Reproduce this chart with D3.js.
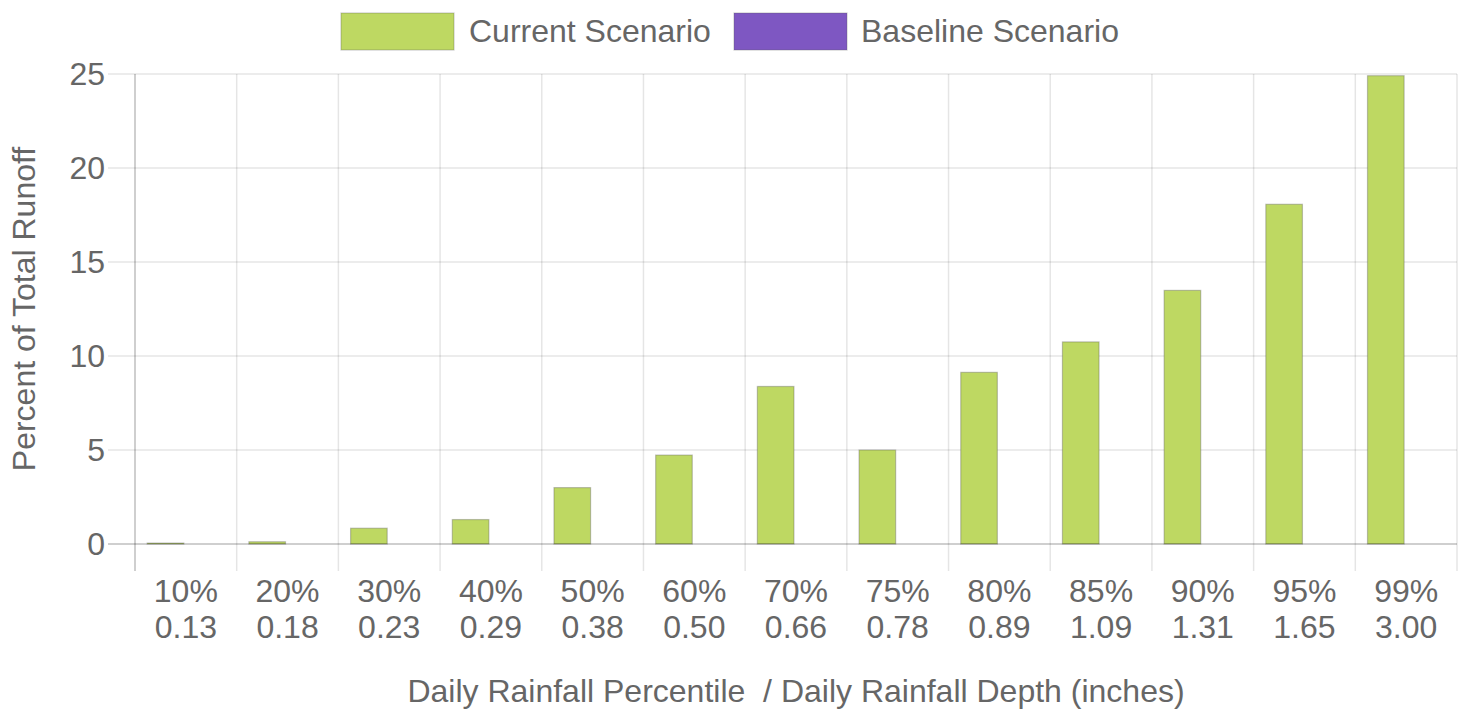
<!DOCTYPE html>
<html>
<head>
<meta charset="utf-8">
<script src="https://cdn.jsdelivr.net/npm/d3@7/dist/d3.min.js"></script>
<style>
  html, body { margin: 0; padding: 0; background: #fff; }
  svg { display: block; }
  text { font-family: "Liberation Sans", Arial, Helvetica, sans-serif; fill: #666; }
</style>
</head>
<body>
<svg id="chart" width="1476" height="711"></svg>
<script>
// Rainfall percentile categories and their daily depth (inches)
const percentiles = ["10%", "20%", "30%", "40%", "50%", "60%", "70%", "75%", "80%", "85%", "90%", "95%", "99%"];
const depths = ["0.13", "0.18", "0.23", "0.29", "0.38", "0.50", "0.66", "0.78", "0.89", "1.09", "1.31", "1.65", "3.00"];

// Percent of total runoff per scenario
const currentScenario = [0.05, 0.12, 0.84, 1.3, 3.0, 4.73, 8.38, 5.0, 9.13, 10.75, 13.49, 18.07, 24.91];
const baselineScenario = [0, 0, 0, 0, 0, 0, 0, 0, 0, 0, 0, 0, 0];

const yTicks = [0, 5, 10, 15, 20, 25];

const seriesNames = ["Current Scenario", "Baseline Scenario"];
const seriesColors = ["#bed862", "#7e57c2"];

const svg = d3.select("#chart");
const margin = { left: 135, right: 19, top: 74, bottom: 167 };
const W = 1476, H = 711;
const plotW = W - margin.left - margin.right;
const plotH = H - margin.top - margin.bottom;
const fontSize = 32;
const gridColor = "rgba(0,0,0,0.1)";
const axisColor = "rgba(0,0,0,0.25)";
const tickLen = 27;

const x = d3.scaleBand().domain(percentiles).range([margin.left, margin.left + plotW]).paddingInner(0).paddingOuter(0);
const y = d3.scaleLinear().domain([0, 25]).range([margin.top + plotH, margin.top]);

// inner band for the two datasets within each category (80% of the category)
const sub = d3.scaleBand().domain(seriesNames)
  .range([x.bandwidth() * 0.1, x.bandwidth() * 0.9])
  .paddingInner(0.1).paddingOuter(0.05);

const g = svg.append("g");

// horizontal gridlines (with tick marks to the left of the axis)
g.append("g").selectAll("line").data(yTicks.filter(d => d !== 0)).join("line")
  .attr("x1", margin.left - tickLen).attr("x2", margin.left + plotW)
  .attr("y1", d => y(d)).attr("y2", d => y(d))
  .attr("stroke", gridColor).attr("stroke-width", 1.5);

// vertical gridlines at category boundaries
const bounds = percentiles.map(p => x(p)).concat([margin.left + plotW]);
g.append("g").selectAll("line").data(bounds.slice(1)).join("line")
  .attr("x1", d => d).attr("x2", d => d)
  .attr("y1", margin.top).attr("y2", y(0) + tickLen)
  .attr("stroke", gridColor).attr("stroke-width", 1.5);

// y tick labels
const yAxis = d3.axisLeft(y).tickValues(yTicks).tickSize(0).tickPadding(0);
const yg = svg.append("g").attr("transform", `translate(${margin.left - tickLen - 3},0)`).call(yAxis);
yg.select(".domain").remove();
yg.selectAll("text").attr("font-size", fontSize).attr("fill", "#666")
  .attr("font-family", "Liberation Sans, Arial, sans-serif");

// bars
const groups = svg.append("g").selectAll("g").data(percentiles).join("g")
  .attr("transform", d => `translate(${x(d)},0)`);

groups.append("rect")
  .attr("x", sub("Current Scenario"))
  .attr("width", sub.bandwidth())
  .attr("y", (d, i) => y(currentScenario[i]))
  .attr("height", (d, i) => y(0) - y(currentScenario[i]))
  .attr("fill", seriesColors[0])
  .attr("stroke", "rgba(90,90,90,0.35)")
  .attr("stroke-width", 1.2);

groups.append("rect")
  .attr("x", sub("Baseline Scenario"))
  .attr("width", sub.bandwidth())
  .attr("y", (d, i) => y(baselineScenario[i]))
  .attr("height", (d, i) => y(0) - y(baselineScenario[i]))
  .attr("fill", seriesColors[1]);

// zero line and y-axis line
svg.append("line")
  .attr("x1", margin.left - tickLen).attr("x2", margin.left + plotW)
  .attr("y1", y(0)).attr("y2", y(0))
  .attr("stroke", axisColor).attr("stroke-width", 1.5);
svg.append("line")
  .attr("x1", margin.left).attr("x2", margin.left)
  .attr("y1", margin.top).attr("y2", y(0) + tickLen)
  .attr("stroke", axisColor).attr("stroke-width", 1.5);

// x tick labels: percentile over depth
const xl = svg.append("g").selectAll("text").data(percentiles).join("text")
  .attr("x", d => x(d) + x.bandwidth() / 2)
  .attr("text-anchor", "middle")
  .attr("font-size", fontSize);
xl.append("tspan").attr("x", d => x(d) + x.bandwidth() / 2).attr("y", 602).text(d => d);
xl.append("tspan").attr("x", d => x(d) + x.bandwidth() / 2).attr("y", 638).text((d, i) => depths[i]);

// axis titles
svg.append("text")
  .attr("x", margin.left + plotW / 2).attr("y", 702)
  .attr("text-anchor", "middle").attr("font-size", fontSize)
  .text("Daily Rainfall Percentile  / Daily Rainfall Depth (inches)")
  .style("white-space", "pre");

svg.append("text")
  .attr("transform", `translate(35,${margin.top + plotH / 2}) rotate(-90)`)
  .attr("text-anchor", "middle").attr("font-size", fontSize)
  .text("Percent of Total Runoff");

// legend
const legendItems = [
  { name: seriesNames[0], color: seriesColors[0], bx: 341, tx: 469 },
  { name: seriesNames[1], color: seriesColors[1], bx: 734, tx: 861 }
];
const lg = svg.append("g").selectAll("g").data(legendItems).join("g");
lg.append("rect")
  .attr("x", d => d.bx).attr("y", 13).attr("width", 113).attr("height", 37)
  .attr("fill", d => d.color)
  .attr("stroke", "rgba(90,90,90,0.3)").attr("stroke-width", 1.2);
lg.append("text")
  .attr("x", d => d.tx).attr("y", 42)
  .attr("font-size", fontSize)
  .text(d => d.name);
</script>
</body>
</html>
